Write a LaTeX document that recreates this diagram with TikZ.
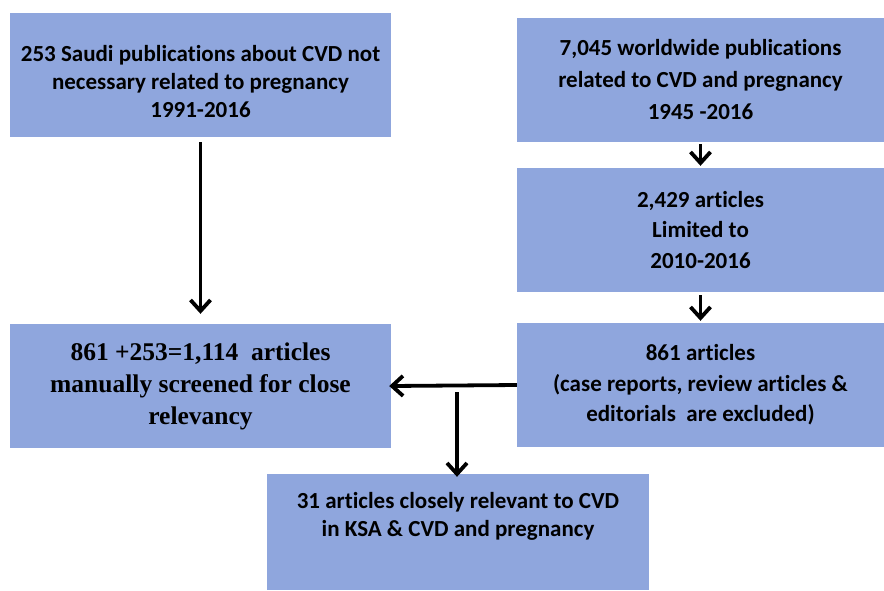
\documentclass[tikz,border=0pt]{standalone}
\usepackage{fontspec}
\setmainfont{Carlito}[Ligatures=NoCommon]
\newfontfamily\serifbold{Liberation Serif}
\usetikzlibrary{arrows.meta}
\definecolor{boxblue}{RGB}{143,166,221}
\tikzset{
  box/.style={fill=boxblue, draw=none, inner sep=0pt, align=center,
    font=\fontsize{23}{28}\selectfont\bfseries},
  boxwide/.style={box, font=\fontsize{23}{32}\selectfont\bfseries},
  boxtall/.style={box, font=\fontsize{23}{30.5}\selectfont\bfseries},
  serifbox/.style={box, font=\serifbold\fontsize{25.5}{32}\selectfont\bfseries},
  arr/.style={line width=3.8pt, -{Straight Barb[length=11pt,width=20pt]}}
}
\begin{document}
\begin{tikzpicture}[x=1pt,y=-1pt]
\useasboundingbox (0,0) rectangle (884,590);
\node[box, minimum width=381pt, minimum height=124pt,
  label={[box, fill=none, yshift=-7pt]center:{253 Saudi publications about CVD not\\necessary related to pregnancy\\1991-2016}}]
  (A) at (200.5,75) {};
\node[boxwide, minimum width=367pt, minimum height=124pt] (B) at (700.5,80)
  {7,045 worldwide publications\\related to CVD and pregnancy\\1945 -2016};
\node[boxtall, minimum width=367pt, minimum height=124pt] (C) at (700.5,230)
  {2,429 articles\\Limited to\\2010-2016};
\node[boxtall, minimum width=367pt, minimum height=124pt] (D) at (700.5,385)
  {861 articles\\(case reports, review articles \&\\editorials\ \ are excluded)};
\node[serifbox, minimum width=381pt, minimum height=124pt] (E) at (200.5,386)
  {861 +253=1,114\ \ articles\\manually screened for close\\relevancy};
\node[box, minimum width=382pt, minimum height=116pt,
  label={[box, fill=none, anchor=north, yshift=-18pt]north:{31 articles closely relevant to CVD\\in KSA \& CVD and pregnancy}}]
  (F) at (458,532) {};
\draw[arr, shorten <=5pt, shorten >=10pt] (A) -- (E);
\draw[arr, shorten <=2pt, shorten >=2pt] (B) -- (C);
\draw[arr, shorten <=3pt, shorten >=2pt] (C) -- (D);
\draw[arr, shorten >=-2pt] (D.west) -- (E.east);
\coordinate (j) at (457,392);
\draw[arr, shorten >=-3pt] (j) -- (j |- F.north);
\end{tikzpicture}
\end{document}
